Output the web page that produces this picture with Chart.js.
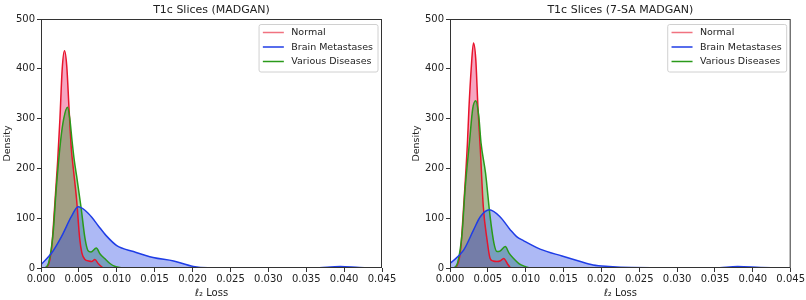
<!DOCTYPE html>
<html>
<head>
<meta charset="utf-8">
<script src="https://cdn.jsdelivr.net/npm/chart.js@4.4.1/dist/chart.umd.min.js"></script>
<style>
    body {
        margin: 0;
        background: #ffffff;
        width: 806px;
        height: 300px;
        overflow: hidden;
        position: relative;
    }

    .painel {
        position: absolute;
        top: 0;
        height: 300px;
    }
</style>
</head>
<body>
<div class="painel" style="left: 0; width: 400px;">
    <canvas id="grafico_madgan" width="400" height="300"></canvas>
</div>
<div class="painel" style="left: 409px; width: 397px;">
    <canvas id="grafico_sa" width="397" height="300"></canvas>
</div>

<script>
// ---- dados: densidade (KDE) do erro l2 ----

let titulos = ["T1c Slices (MADGAN)", "T1c Slices (7-SA MADGAN)"];
let rotulos = ["Normal", "Brain Metastases", "Various Diseases"];

let ticksX = [0, 0.005, 0.010, 0.015, 0.020, 0.025, 0.030, 0.035, 0.040, 0.045];
let ticksY = [0, 100, 200, 300, 400, 500];

// MADGAN
let normalX_madgan = [0.0005, 0.0009, 0.0014, 0.0018, 0.0022, 0.0025, 0.0028, 0.0031, 0.0034, 0.0037, 0.0040, 0.0043, 0.0047, 0.0051, 0.0054, 0.0058, 0.0063, 0.0067, 0.0071, 0.0076, 0.0082];
let normalY_madgan = [0, 4, 40, 123, 215, 300, 400, 436, 405, 320, 240, 195, 137, 60, 30, 17, 14, 13, 17, 8, 0];

let metastX_madgan = [0, 0.0014, 0.0027, 0.0040, 0.0049, 0.0058, 0.0067, 0.0076, 0.0086, 0.0100, 0.0122, 0.0148, 0.0175, 0.0201, 0.0220, 0.0300, 0.0360, 0.0395, 0.0420, 0.0445];
let metastY_madgan = [7, 30, 63, 103, 123, 116, 102, 84, 65, 45, 33, 21, 14, 3, 0.5, 0.5, 0.5, 3, 1, 0];

let variasX_madgan = [0.0005, 0.0010, 0.0016, 0.0020, 0.0026, 0.0030, 0.0035, 0.0038, 0.0041, 0.0044, 0.0047, 0.0053, 0.0058, 0.0062, 0.0066, 0.0073, 0.0078, 0.0084, 0.0091, 0.0098, 0.0107];
let variasY_madgan = [0, 10, 70, 157, 257, 300, 323, 300, 255, 215, 185, 120, 60, 35, 32, 40, 28, 19, 9, 3, 0];

// 7-SA MADGAN
let normalX_sa = [0.0005, 0.0009, 0.0014, 0.0018, 0.0023, 0.0025, 0.0028, 0.0031, 0.0034, 0.0037, 0.0040, 0.0044, 0.0049, 0.0053, 0.0057, 0.0062, 0.0066, 0.0071, 0.0076, 0.0080];
let normalY_sa = [0, 4, 36, 123, 250, 320, 400, 452, 420, 320, 240, 123, 56, 19, 14, 13, 14, 19, 8, 0];

let metastX_sa = [0, 0.0018, 0.0031, 0.0040, 0.0052, 0.0066, 0.0080, 0.0088, 0.0097, 0.0119, 0.0148, 0.0170, 0.0189, 0.0210, 0.0240, 0.0300, 0.0350, 0.0380, 0.0410, 0.0432];
let metastY_sa = [9, 36, 76, 103, 117, 103, 76, 63, 55, 38, 24, 14, 6, 3, 1, 0.5, 0.5, 3, 1, 0];

let variasX_sa = [0.0005, 0.0010, 0.0016, 0.0020, 0.0026, 0.0030, 0.0034, 0.0038, 0.0041, 0.0047, 0.0053, 0.0058, 0.0062, 0.0066, 0.0073, 0.0078, 0.0084, 0.0091, 0.0099, 0.0105];
let variasY_sa = [0, 10, 70, 160, 257, 320, 336, 305, 251, 190, 103, 50, 33, 34, 43, 30, 19, 9, 3, 0];

// ---- estilos ----

let corLinhas = ["#e8142c", "#1f3de6", "#2a9a1a"];
let corPreench = ["rgba(232, 30, 100, 0.4)", "rgba(40, 70, 230, 0.38)", "rgba(40, 150, 40, 0.4)"];
let corLegenda = ["rgba(232, 20, 44, 0.6)", "#1f3de6", "#2a9a1a"];
let ordemDesenho = [3, 1, 2];

let corTexto = "#222222";
let fonte = "'DejaVu Sans', sans-serif";

function pontos(xs, ys) {
    let lista = [];
    for (let i = 0; i < xs.length; i++) {
        lista.push({ x: xs[i], y: ys[i] });
    }
    return lista;
}

// moldura dos 4 lados + legenda com caixa (estilo matplotlib)
const molduraLegenda = {
    id: "molduraLegenda",
    afterDraw(chart) {
        let ctx = chart.ctx;
        let a = chart.chartArea;

        ctx.save();
        ctx.strokeStyle = "#333333";
        ctx.lineWidth = 1;
        ctx.strokeRect(a.left + 0.5, a.top + 0.5, a.right - a.left - 1, a.bottom - a.top - 1);

        ctx.font = "9.5px " + fonte;
        let larguraTexto = 0;
        for (let i = 0; i < rotulos.length; i++) {
            larguraTexto = Math.max(larguraTexto, ctx.measureText(rotulos[i]).width);
        }

        let largura = 4.3 + 21 + 7.4 + larguraTexto + 4.5;
        let altura = 47.5;
        let x0 = a.right - 4.5 - largura;
        let y0 = a.top + 5;

        ctx.beginPath();
        ctx.roundRect(x0 + 0.5, y0 + 0.5, largura, altura, 2);
        ctx.fillStyle = "rgba(255, 255, 255, 0.8)";
        ctx.fill();
        ctx.strokeStyle = "#d0d0d0";
        ctx.stroke();

        ctx.textBaseline = "middle";
        ctx.textAlign = "left";
        for (let i = 0; i < rotulos.length; i++) {
            let yLinha = y0 + 8.5 + i * 14.5;
            ctx.beginPath();
            ctx.moveTo(x0 + 4.3, yLinha);
            ctx.lineTo(x0 + 25.3, yLinha);
            ctx.strokeStyle = corLegenda[i];
            ctx.lineWidth = 1.5;
            ctx.stroke();
            ctx.fillStyle = corTexto;
            ctx.fillText(rotulos[i], x0 + 32.7, yLinha + 0.5);
        }
        ctx.restore();
    }
};

function criarGrafico(idCanvas, titulo, series, paddingDireita) {
    let datasets = [];
    for (let i = 0; i < series.length; i++) {
        datasets.push({
            label: rotulos[i],
            data: pontos(series[i][0], series[i][1]),
            borderColor: corLinhas[i],
            backgroundColor: corPreench[i],
            borderWidth: 1.5,
            fill: "origin",
            pointRadius: 0,
            cubicInterpolationMode: "monotone",
            order: ordemDesenho[i]
        });
    }

    return new Chart(document.getElementById(idCanvas), {
        type: "line",
        data: { datasets: datasets },
        options: {
            responsive: false,
            animation: false,
            layout: {
                padding: { left: 0, right: paddingDireita, top: 0, bottom: 0 }
            },
            plugins: {
                legend: { display: false },
                tooltip: { enabled: false },
                filler: { drawTime: "beforeDatasetsDraw" },
                title: {
                    display: true,
                    text: titulo,
                    fullSize: false,
                    color: corTexto,
                    font: { family: fonte, size: 11, weight: "normal" },
                    padding: { top: 3.7, bottom: 2.1 }
                }
            },
            scales: {
                x: {
                    type: "linear",
                    min: 0,
                    max: 0.045,
                    afterBuildTicks(escala) {
                        escala.ticks = ticksX.map(function (v) { return { value: v }; });
                    },
                    afterFit(escala) {
                        escala.height = 32;
                    },
                    ticks: {
                        color: corTexto,
                        font: { family: fonte, size: 10 },
                        padding: 1,
                        maxRotation: 0,
                        autoSkip: false,
                        callback: function (v) { return Number(v).toFixed(3); }
                    },
                    grid: { drawOnChartArea: false, drawTicks: true, tickLength: 4, color: "#333333" },
                    border: { display: false },
                    title: {
                        display: true,
                        text: "ℓ₂ Loss",
                        color: corTexto,
                        font: { family: fonte, size: 10 },
                        padding: { top: 0, bottom: 1 }
                    }
                },
                y: {
                    min: 0,
                    max: 500,
                    afterBuildTicks(escala) {
                        escala.ticks = ticksY.map(function (v) { return { value: v }; });
                    },
                    afterFit(escala) {
                        escala.width = 41;
                    },
                    ticks: {
                        color: corTexto,
                        font: { family: fonte, size: 10 },
                        padding: 2
                    },
                    grid: { drawOnChartArea: false, drawTicks: true, tickLength: 4, color: "#333333" },
                    border: { display: false },
                    title: {
                        display: true,
                        text: "Density",
                        color: corTexto,
                        font: { family: fonte, size: 9.5 },
                        padding: { top: 1.5, bottom: 0 }
                    }
                }
            }
        },
        plugins: [molduraLegenda]
    });
}

criarGrafico("grafico_madgan", titulos[0], [
    [normalX_madgan, normalY_madgan],
    [metastX_madgan, metastY_madgan],
    [variasX_madgan, variasY_madgan]
], 18);

criarGrafico("grafico_sa", titulos[1], [
    [normalX_sa, normalY_sa],
    [metastX_sa, metastY_sa],
    [variasX_sa, variasY_sa]
], 15);
</script>
</body>
</html>
